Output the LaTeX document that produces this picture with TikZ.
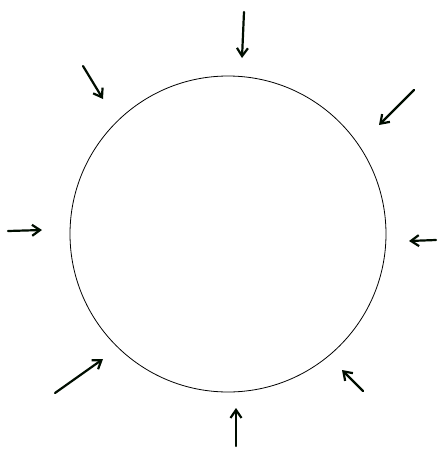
\documentclass[tikz,border=0pt]{standalone}
\usepackage{tikz}
\usetikzlibrary{arrows.meta}

\begin{document}
\begin{tikzpicture}[
    x=1pt, y=-1pt,
    ring/.style={circle, draw, line width=0.8pt, minimum size=316pt, inner sep=0pt},
    push/.style={-{Straight Barb[length=8pt, width=11pt]}, line width=2.2pt, line cap=round, black!95!green}
]
\useasboundingbox (0,0) rectangle (444,456);
\node[ring] (disc) at (228,234) {};
% arrows pointing in towards the disc
\foreach \name/\sx/\sy/\tx/\ty in {n/244/12/242/58, nw/83/66/103/99, ne/414/90/379/125,
    w/8/231/42/230, e/436/240/409/241, sw/55/393/103/359, se/363/391/342/370, s/236/446/236/408} {
  \coordinate (\name-from) at (\sx,\sy);
  \coordinate (\name-to) at (\tx,\ty);
  \draw[push] (\name-from) -- (\name-to);
}
\end{tikzpicture}
\end{document}
